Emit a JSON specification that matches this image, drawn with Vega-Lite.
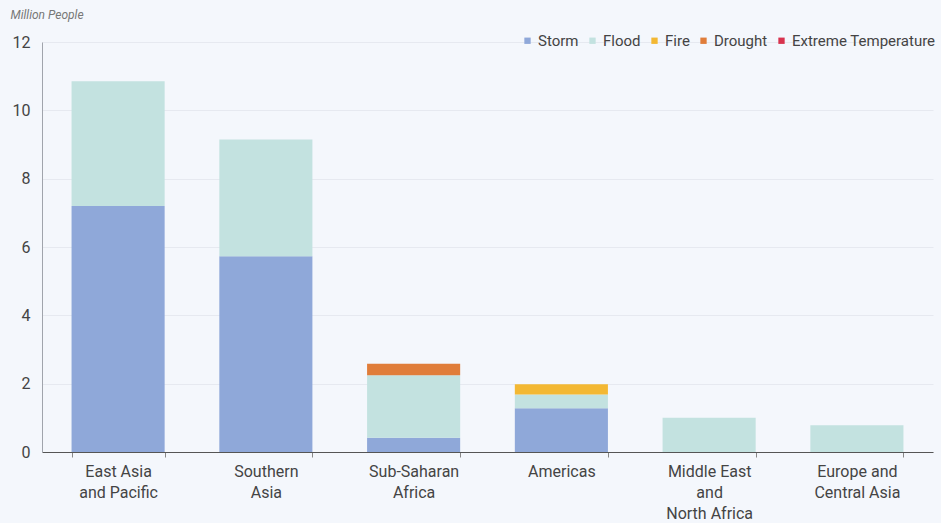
{
  "$schema": "https://vega.github.io/schema/vega-lite/v6.json",
  "width": 891,
  "height": 410,
  "padding": {"left": 42, "top": 42, "right": 8, "bottom": 71},
  "autosize": {"type": "none"},
  "background": "#f4f7fc",
  "config": {
    "font": "Roboto",
    "view": {"stroke": null},
    "axis": {"labelFont": "Roboto", "titleFont": "Roboto"},
    "legend": {"labelFont": "Roboto"}
  },
  "data": {
    "values": [
      {"region": "East Asia and Pacific", "hazard": "Storm", "value": 7.2},
      {"region": "East Asia and Pacific", "hazard": "Flood", "value": 3.65},
      {"region": "Southern Asia", "hazard": "Storm", "value": 5.73},
      {"region": "Southern Asia", "hazard": "Flood", "value": 3.42},
      {"region": "Sub-Saharan Africa", "hazard": "Storm", "value": 0.42},
      {"region": "Sub-Saharan Africa", "hazard": "Flood", "value": 1.83},
      {"region": "Sub-Saharan Africa", "hazard": "Drought", "value": 0.33},
      {"region": "Americas", "hazard": "Storm", "value": 1.28},
      {"region": "Americas", "hazard": "Flood", "value": 0.4},
      {"region": "Americas", "hazard": "Fire", "value": 0.3},
      {"region": "Middle East and North Africa", "hazard": "Flood", "value": 1.0},
      {"region": "Europe and Central Asia", "hazard": "Flood", "value": 0.78},
      {"region": "Europe and Central Asia", "hazard": "Extreme Temperature", "value": 0.0}
    ]
  },
  "mark": {"type": "bar"},
  "encoding": {
    "x": {
      "field": "region",
      "type": "nominal",
      "sort": null,
      "scale": {"paddingInner": 0.37, "paddingOuter": 0.2},
      "axis": {
        "title": null,
        "labelAngle": 0,
        "labelExpr": "datum.value == 'East Asia and Pacific' ? ['East Asia', 'and Pacific'] : datum.value == 'Southern Asia' ? ['Southern', 'Asia'] : datum.value == 'Sub-Saharan Africa' ? ['Sub-Saharan', 'Africa'] : datum.value == 'Middle East and North Africa' ? ['Middle East', 'and', 'North Africa'] : datum.value == 'Europe and Central Asia' ? ['Europe and', 'Central Asia'] : datum.value",
        "labelFontSize": 16,
        "labelColor": "#444444",
        "labelLineHeight": 21,
        "labelPadding": 6,
        "domainColor": "#555555",
        "tickColor": "#888888",
        "tickBand": "extent",
        "tickSize": 5
      }
    },
    "y": {
      "field": "value",
      "type": "quantitative",
      "aggregate": "sum",
      "stack": "zero",
      "scale": {"domain": [0, 12]},
      "axis": {
        "title": "Million People",
        "titleAngle": 0,
        "titleAlign": "left",
        "titleAnchor": "end",
        "titleX": -32,
        "titleY": -21,
        "titleFontSize": 12,
        "titleFontStyle": "italic",
        "titleFontWeight": "normal",
        "titleColor": "#777777",
        "values": [0, 2, 4, 6, 8, 10, 12],
        "labelFontSize": 16,
        "labelColor": "#444444",
        "labelPadding": 12,
        "ticks": false,
        "domainColor": "#a0a4ac",
        "gridColor": "#e6e9f0",
        "gridWidth": 1
      }
    },
    "color": {
      "field": "hazard",
      "type": "nominal",
      "scale": {
        "domain": ["Storm", "Flood", "Fire", "Drought", "Extreme Temperature"],
        "range": ["#8fa8d9", "#c3e2e0", "#f3b833", "#e07d3a", "#d8334e"]
      },
      "legend": {
        "title": null,
        "orient": "none",
        "direction": "horizontal",
        "legendX": 478,
        "legendY": -9,
        "symbolType": "square",
        "symbolSize": 40,
        "symbolStrokeWidth": 0,
        "labelFontSize": 15,
        "labelColor": "#444444",
        "labelOffset": 3,
        "columnPadding": 6
      }
    },
    "order": {"field": "hazardOrder", "type": "quantitative"}
  }
}
